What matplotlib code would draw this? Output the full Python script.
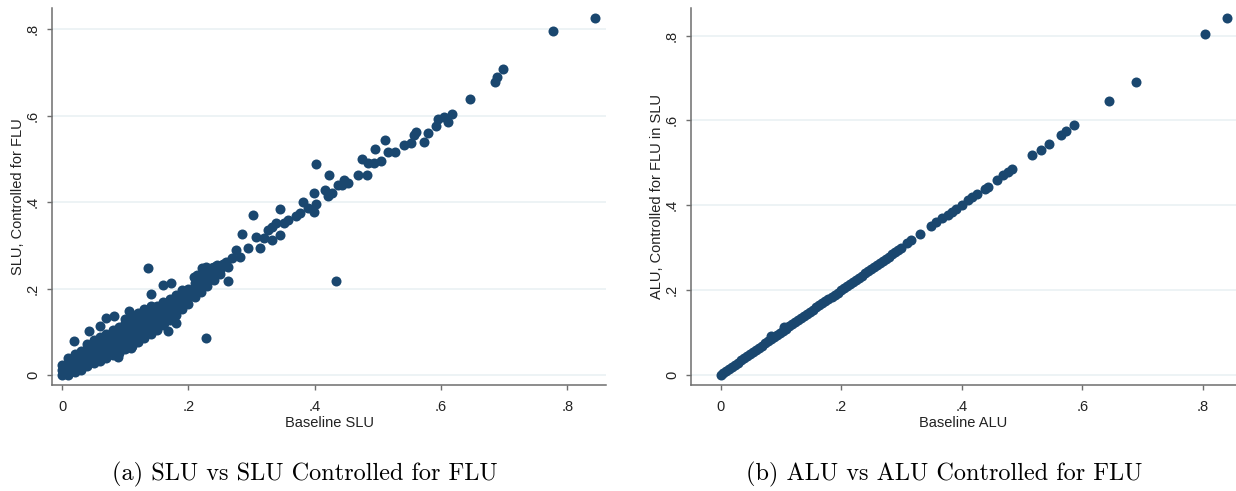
import matplotlib
matplotlib.use("Agg")
import matplotlib.pyplot as plt

plt.rcParams['font.family'] = ['Liberation Sans', 'DejaVu Sans']

# ---- panel (a): baseline SLU vs SLU controlled for FLU ----
# dense band near the origin, read column by column
slu_band = {
    0.00: [0.000, 0.012, 0.024],
    0.01: [0.000, 0.013, 0.027, 0.040],
    0.02: [0.006, 0.020, 0.034, 0.048],
    0.03: [0.012, 0.026, 0.040, 0.055],
    0.04: [0.020, 0.034, 0.048, 0.062, 0.072],
    0.05: [0.027, 0.041, 0.055, 0.069, 0.080],
    0.06: [0.032, 0.046, 0.060, 0.074, 0.087],
    0.07: [0.040, 0.054, 0.068, 0.082, 0.096],
    0.08: [0.046, 0.060, 0.075, 0.090, 0.104],
    0.09: [0.052, 0.067, 0.082, 0.097, 0.112],
    0.10: [0.060, 0.075, 0.090, 0.105, 0.120, 0.130],
    0.11: [0.068, 0.083, 0.098, 0.113, 0.127, 0.138],
    0.12: [0.077, 0.092, 0.107, 0.121, 0.135, 0.144],
    0.13: [0.085, 0.100, 0.115, 0.130, 0.143, 0.152],
    0.14: [0.095, 0.110, 0.125, 0.140, 0.152, 0.160],
    0.15: [0.105, 0.120, 0.135, 0.149, 0.160],
    0.16: [0.115, 0.130, 0.145, 0.158, 0.169],
    0.17: [0.127, 0.141, 0.155, 0.167, 0.177],
    0.18: [0.140, 0.153, 0.166, 0.177, 0.186],
    0.19: [0.152, 0.165, 0.177, 0.188, 0.196],
    0.20: [0.165, 0.178, 0.190, 0.200],
    0.21: [0.180, 0.192, 0.203, 0.212],
    0.22: [0.193, 0.205, 0.216, 0.226],
    0.23: [0.206, 0.218, 0.229, 0.238],
    0.24: [0.220, 0.231, 0.242, 0.250],
    0.25: [0.233, 0.244, 0.253],
}

# scattered points outside the band
slu_base_extra = [0.844, 0.777, 0.698, 0.689, 0.685, 0.646, 0.617, 0.605, 0.595, 0.611,
                  0.592, 0.579, 0.573, 0.560, 0.557, 0.553, 0.541, 0.527, 0.516, 0.511,
                  0.505, 0.495, 0.494, 0.484, 0.474, 0.483, 0.469, 0.453, 0.446, 0.443,
                  0.437, 0.423, 0.416, 0.421, 0.427, 0.402, 0.399, 0.402, 0.399, 0.381,
                  0.389, 0.377, 0.370, 0.358, 0.351, 0.345, 0.345, 0.332, 0.339, 0.332,
                  0.326, 0.302, 0.307, 0.313, 0.320, 0.285, 0.294, 0.282, 0.275, 0.269,
                  0.260, 0.263, 0.262, 0.136, 0.434, 0.228, 0.018, 0.140, 0.160, 0.173,
                  0.180, 0.167, 0.173, 0.161, 0.042, 0.060, 0.070, 0.082, 0.089, 0.109,
                  0.106, 0.255, 0.250, 0.245, 0.240, 0.235, 0.227, 0.222, 0.214, 0.208]
slu_ctrl_extra = [0.826, 0.795, 0.708, 0.689, 0.677, 0.639, 0.603, 0.598, 0.592, 0.586,
                  0.575, 0.559, 0.540, 0.563, 0.556, 0.536, 0.531, 0.517, 0.517, 0.544,
                  0.494, 0.522, 0.490, 0.490, 0.500, 0.463, 0.463, 0.444, 0.451, 0.440,
                  0.440, 0.463, 0.428, 0.413, 0.421, 0.488, 0.421, 0.396, 0.378, 0.400,
                  0.386, 0.374, 0.367, 0.359, 0.351, 0.383, 0.324, 0.313, 0.351, 0.343,
                  0.336, 0.370, 0.320, 0.293, 0.316, 0.326, 0.293, 0.274, 0.289, 0.270,
                  0.262, 0.251, 0.218, 0.248, 0.218, 0.086, 0.079, 0.187, 0.208, 0.214,
                  0.121, 0.102, 0.137, 0.121, 0.103, 0.113, 0.131, 0.137, 0.041, 0.062,
                  0.147, 0.256, 0.252, 0.254, 0.250, 0.247, 0.250, 0.247, 0.231, 0.227]

# ---- panel (b): baseline ALU vs ALU controlled for FLU ----
alu_base = [0.000, 0.004, 0.009, 0.014, 0.019, 0.024, 0.029, 0.034, 0.039, 0.044,
            0.049, 0.054, 0.059, 0.064, 0.069, 0.074, 0.079, 0.083, 0.084, 0.089,
            0.094, 0.099, 0.104, 0.105, 0.109, 0.114, 0.119, 0.124, 0.129, 0.134,
            0.139, 0.144, 0.149, 0.154, 0.159, 0.164, 0.169, 0.174, 0.179, 0.184,
            0.189, 0.194, 0.199, 0.204, 0.209, 0.214, 0.219, 0.224, 0.229, 0.234,
            0.239, 0.244, 0.249, 0.254, 0.259, 0.264, 0.269, 0.274, 0.279, 0.284,
            0.289, 0.294, 0.299, 0.309, 0.316, 0.331, 0.349, 0.358, 0.368, 0.378,
            0.384, 0.391, 0.401, 0.410, 0.417, 0.425, 0.438, 0.443, 0.459, 0.469,
            0.476, 0.484, 0.516, 0.531, 0.544, 0.565, 0.573, 0.586, 0.645, 0.689,
            0.803, 0.840]
alu_ctrl = [0.000, 0.004, 0.009, 0.014, 0.019, 0.024, 0.029, 0.034, 0.039, 0.044,
            0.049, 0.054, 0.059, 0.064, 0.069, 0.074, 0.079, 0.092, 0.084, 0.089,
            0.094, 0.099, 0.104, 0.112, 0.109, 0.114, 0.119, 0.124, 0.129, 0.134,
            0.139, 0.144, 0.149, 0.154, 0.159, 0.164, 0.169, 0.174, 0.179, 0.184,
            0.189, 0.194, 0.199, 0.204, 0.209, 0.214, 0.219, 0.224, 0.229, 0.234,
            0.239, 0.244, 0.249, 0.254, 0.259, 0.264, 0.269, 0.274, 0.279, 0.284,
            0.289, 0.294, 0.299, 0.312, 0.319, 0.332, 0.350, 0.361, 0.370, 0.378,
            0.384, 0.392, 0.401, 0.413, 0.419, 0.426, 0.438, 0.442, 0.460, 0.472,
            0.478, 0.486, 0.518, 0.530, 0.544, 0.565, 0.574, 0.588, 0.645, 0.690,
            0.803, 0.842]

ticks = [0, 0.2, 0.4, 0.6, 0.8]
tick_labels = ['0', '.2', '.4', '.6', '.8']

slu_base = []
slu_ctrl = []
for xv, ys in slu_band.items():
    for yv in ys:
        slu_base.append(xv)
        slu_ctrl.append(yv)
slu_base += slu_base_extra
slu_ctrl += slu_ctrl_extra

navy = '#1a476f'
spine_c = '#6e6e6e'
grid_c = '#e8f0f2'

fig = plt.figure(figsize=(12.36, 4.91), dpi=100)
ax1 = fig.add_axes([0.0421, 0.2159, 0.4482, 0.7678])
ax2 = fig.add_axes([0.5591, 0.2159, 0.4409, 0.7678])


def style(ax, xlabel, ylabel, xlim, ylim):
    ax.set_xlim(xlim)
    ax.set_ylim(ylim)
    ax.set_xticks(ticks)
    ax.set_xticklabels(tick_labels)
    ax.set_yticks(ticks)
    ax.set_yticklabels(tick_labels, rotation=90, va='center')
    for s in ['top', 'right']:
        ax.spines[s].set_visible(False)
    for s in ['left', 'bottom']:
        ax.spines[s].set_color(spine_c)
        ax.spines[s].set_linewidth(1.1)
    ax.tick_params(axis='both', colors=spine_c, labelcolor='#222222',
                   length=3.6, width=1.0, labelsize=10.5)
    ax.tick_params(axis='x', pad=7)
    ax.tick_params(axis='y', pad=5)
    ax.yaxis.grid(True, color=grid_c, linewidth=1.1)
    ax.set_axisbelow(True)
    ax.set_xlabel(xlabel, fontsize=10.5, labelpad=2, color='#222222')
    ax.set_ylabel(ylabel, fontsize=10.5, labelpad=1, color='#222222')


ax1.scatter(slu_base, slu_ctrl, s=52, color=navy, linewidths=0, zorder=3)
style(ax1, 'Baseline SLU', 'SLU, Controlled for FLU', (-0.016, 0.861), (-0.023, 0.849))

ax2.scatter(alu_base, alu_ctrl, s=52, color=navy, linewidths=0, zorder=3, clip_on=False)
style(ax2, 'Baseline ALU', 'ALU, Controlled for FLU in SLU', (-0.049, 0.855), (-0.024, 0.865))

fig.text(305 / 1236, 1 - 474 / 491, '(a) SLU vs SLU Controlled for FLU',
         family='cmr10', fontsize=17.5, ha='center', va='center')
fig.text(944 / 1236, 1 - 474 / 491, '(b) ALU vs ALU Controlled for FLU',
         family='cmr10', fontsize=17.5, ha='center', va='center')

fig.savefig('out.png', dpi=100)
